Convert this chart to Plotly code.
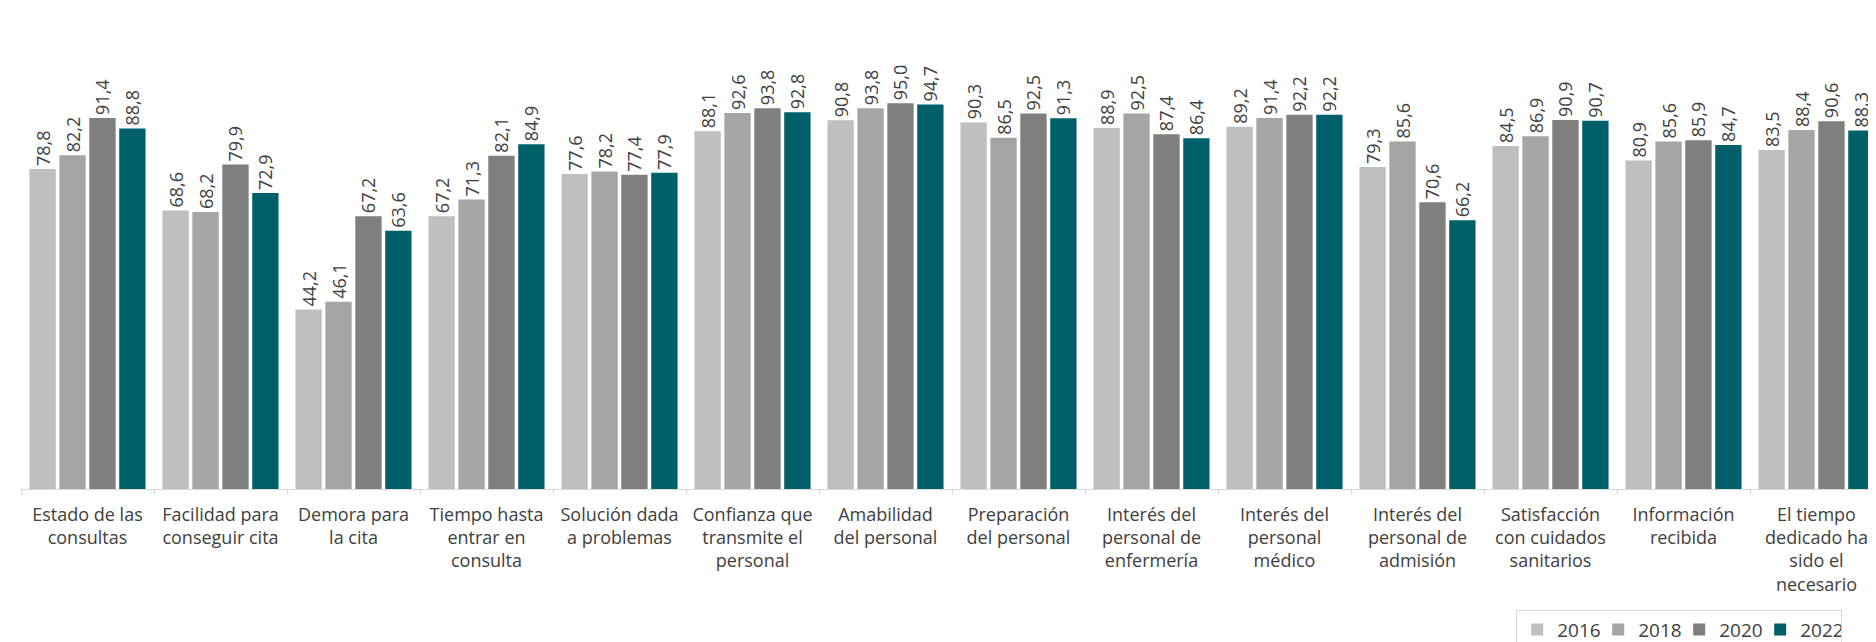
import plotly.graph_objects as go

categories = [
    "Estado de las<br>consultas",
    "Facilidad para<br>conseguir cita",
    "Demora para<br>la cita",
    "Tiempo hasta<br>entrar en<br>consulta",
    "Solución dada<br>a problemas",
    "Confianza que<br>transmite el<br>personal",
    "Amabilidad<br>del personal",
    "Preparación<br>del personal",
    "Interés del<br>personal de<br>enfermería",
    "Interés del<br>personal<br>médico",
    "Interés del<br>personal de<br>admisión",
    "Satisfacción<br>con cuidados<br>sanitarios",
    "Información<br>recibida",
    "El tiempo<br>dedicado ha<br>sido el<br>necesario",
]

years = ["2016", "2018", "2020", "2022"]
v2016 = [78.8, 68.6, 44.2, 67.2, 77.6, 88.1, 90.8, 90.3, 88.9, 89.2, 79.3, 84.5, 80.9, 83.5]
v2018 = [82.2, 68.2, 46.1, 71.3, 78.2, 92.6, 93.8, 86.5, 92.5, 91.4, 85.6, 86.9, 85.6, 88.4]
v2020 = [91.4, 79.9, 67.2, 82.1, 77.4, 93.8, 95.0, 92.5, 87.4, 92.2, 70.6, 90.9, 85.9, 90.6]
v2022 = [88.8, 72.9, 63.6, 84.9, 77.9, 92.8, 94.7, 91.3, 86.4, 92.2, 66.2, 90.7, 84.7, 88.3]

series = [v2016, v2018, v2020, v2022]
colors = ["#BFBFBF", "#A5A5A5", "#7F7F7F", "#00606A"]

FONT = "Open Sans"
fig = go.Figure()
for name, vals, col in zip(years, series, colors):
    fig.add_trace(go.Bar(
        name=name, x=categories, y=vals,
        marker=dict(color=col, line=dict(width=0)),
        text=[f"{v:.1f}".replace(".", ",") for v in vals],
        textposition="outside", textangle=-90, constraintext="none",
        textfont=dict(family=FONT, size=18, color="#404040"),
        cliponaxis=False,
    ))

fig.update_layout(
    width=1876, height=642,
    margin=dict(l=13, r=1, t=75, b=157),
    paper_bgcolor="white", plot_bgcolor="white",
    barmode="group", bargap=0.1, bargroupgap=0.12,
    font=dict(family=FONT, size=18, color="#404040"),
    showlegend=True,
    legend=dict(
        orientation="h", x=0.803, xanchor="left", y=-0.297, yanchor="top",
        bordercolor="#D9D9D9", borderwidth=1,
        font=dict(family=FONT, size=19, color="#404040"),
        itemwidth=30, traceorder="normal",
        entrywidth=36, entrywidthmode="pixels",
    ),
)
fig.update_xaxes(
    showline=True, linecolor="#D9D9D9", linewidth=1,
    ticks="outside", tickson="boundaries", ticklen=5, tickcolor="#D9D9D9",
    tickangle=0, showgrid=False, ticklabelstandoff=9,
    tickfont=dict(family=FONT, size=18, color="#404040"),
)
fig.update_yaxes(range=[0, 100], visible=False, showgrid=False)

fig.write_html("out.html")
